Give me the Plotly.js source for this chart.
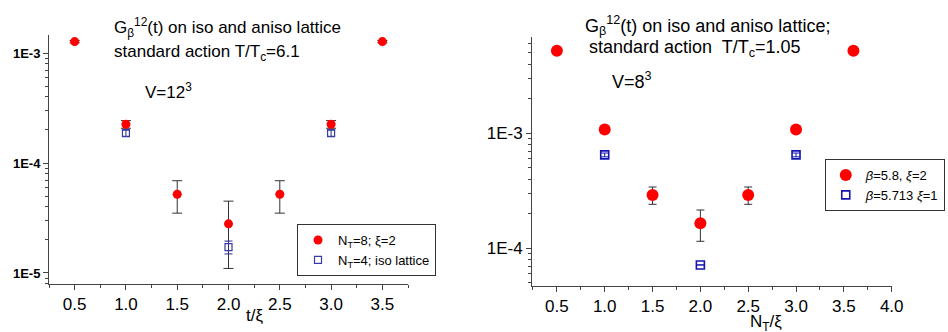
<!DOCTYPE html>
<html>
<head>
<meta charset="utf-8">
<script src="https://cdn.plot.ly/plotly-3.0.1.min.js"></script>
<style>html,body{margin:0;padding:0;background:#fff;}#chart{width:948px;height:332px;}</style>
</head>
<body>
<div id="chart"></div>
<script>
// ---- Left panel data (T/Tc = 6.1, V = 12^3) ----
const leftX_aniso = [0.5, 1.0, 1.5, 2.0, 2.5, 3.0, 3.5];
const leftY_aniso = [1.27e-3, 2.25e-4, 5.2e-5, 2.8e-5, 5.2e-5, 2.25e-4, 1.27e-3];
const leftErr_aniso = [3e-5, 1.8e-5, 1.7e-5, 1.7e-5, 1.7e-5, 1.8e-5, 3e-5];
const leftX_iso = [1.0, 2.0, 3.0];
const leftY_iso = [1.87e-4, 1.72e-5, 1.87e-4];
const leftErr_iso = [1.2e-5, 0.23e-5, 1.2e-5];

// ---- Right panel data (T/Tc = 1.05, V = 8^3) ----
const rightX_aniso = [0.5, 1.0, 1.5, 2.0, 2.5, 3.0, 3.6];
const rightY_aniso = [5.22e-3, 1.08e-3, 2.91e-4, 1.65e-4, 2.91e-4, 1.08e-3, 5.22e-3];
const rightErr_aniso = [2e-4, 4e-5, 5e-5, 5e-5, 5e-5, 4e-5, 2e-4];
const rightX_iso = [1.0, 2.0, 3.0];
const rightY_iso = [6.48e-4, 7.16e-5, 6.48e-4];
const rightErr_iso = [2.5e-5, 0, 2.5e-5];

// ---- Tick labels ----
const leftXTickVals = [0.5, 1.0, 1.5, 2.0, 2.5, 3.0, 3.5];
const leftXTickText = ['0.5', '1.0', '1.5', '2.0', '2.5', '3.0', '3.5'];
const rightXTickVals = [0.5, 1.0, 1.5, 2.0, 2.5, 3.0, 3.5, 4.0];
const rightXTickText = ['0.5', '1.0', '1.5', '2.0', '2.5', '3.0', '3.5', '4.0'];
const leftYTickVals = [1e-5, 1e-4, 1e-3];
const leftYTickText = ['1E-5', '1E-4', '1E-3'];
const rightYTickVals = [1e-4, 1e-3];
const rightYTickText = ['1E-4', '1E-3'];

// ---- Legend names ----
const leftNames = ['N<sub>T</sub>=8; ξ=2', 'N<sub>T</sub>=4; iso lattice'];
const rightNames = ['<i>β</i>=5.8, <i>ξ</i>=2', '<i>β</i>=5.713 <i>ξ</i>=1'];

function minorLog(exps) {
  const out = [];
  exps.forEach(e => { for (let k = 2; k <= 9; k++) out.push(k * Math.pow(10, e)); });
  return out;
}

const RED = '#ff0000';
const ERR = '#333333';
const FONT = 'Liberation Sans, Arial, sans-serif';

const traces = [
  {x: leftX_aniso, y: leftY_aniso, xaxis: 'x', yaxis: 'y', type: 'scatter', mode: 'markers',
   name: leftNames[0], legend: 'legend',
   marker: {symbol: 'circle', size: 9, color: RED},
   error_y: {type: 'data', array: leftErr_aniso, color: ERR, thickness: 1, width: 5}},
  {x: leftX_iso, y: leftY_iso, xaxis: 'x', yaxis: 'y', type: 'scatter', mode: 'markers',
   name: leftNames[1], legend: 'legend',
   marker: {symbol: 'square-open', size: 7, color: '#3a3aa8', line: {width: 1.2}},
   error_y: {type: 'data', array: leftErr_iso, color: '#2a2a80', thickness: 1, width: 4}},
  {x: rightX_aniso, y: rightY_aniso, xaxis: 'x2', yaxis: 'y2', type: 'scatter', mode: 'markers',
   name: rightNames[0], legend: 'legend2',
   marker: {symbol: 'circle', size: 12, color: RED},
   error_y: {type: 'data', array: rightErr_aniso, color: ERR, thickness: 1, width: 4}},
  {x: rightX_iso, y: rightY_iso, xaxis: 'x2', yaxis: 'y2', type: 'scatter', mode: 'markers',
   name: rightNames[1], legend: 'legend2',
   marker: {symbol: 'square-open', size: 8, color: '#1414b0', line: {width: 1.6}},
   error_y: {type: 'data', array: rightErr_iso, color: '#1414b0', thickness: 1, width: 4}}
];

const axCommon = {showgrid: false, zeroline: false, showline: true, linecolor: '#444', linewidth: 1,
  ticks: 'outside', tickcolor: '#444', tickwidth: 1, mirror: false};

const layout = {
  width: 948, height: 332, margin: {l: 0, r: 0, t: 0, b: 0},
  paper_bgcolor: '#fff', plot_bgcolor: '#fff',
  font: {family: FONT, color: '#000'},
  showlegend: true,
  xaxis: Object.assign({}, axCommon, {domain: [0.0517, 0.4304], range: [0.25, 3.75], anchor: 'y',
    tickmode: 'array', tickvals: leftXTickVals, ticktext: leftXTickText, ticklen: 5,
    tickfont: {size: 17, family: FONT},
    minor: {tickmode: 'linear', tick0: 0.25, dtick: 0.25, ticks: 'outside', ticklen: 3, tickcolor: '#444', showgrid: false}}),
  yaxis: Object.assign({}, axCommon, {domain: [0.1446, 0.8946], type: 'log', range: [-5.1, -2.836], anchor: 'x',
    tickmode: 'array', tickvals: leftYTickVals, ticktext: leftYTickText, ticklen: 5,
    tickfont: {size: 13, family: FONT, weight: 600},
    minor: {tickmode: 'array', tickvals: minorLog([-6, -5, -4, -3]), ticks: 'outside', ticklen: 3, tickcolor: '#444', showgrid: false}}),
  xaxis2: Object.assign({}, axCommon, {domain: [0.5612, 0.9409], range: [0.24, 4.003], anchor: 'y2',
    tickmode: 'array', tickvals: rightXTickVals, ticktext: rightXTickText, ticklen: 5,
    tickfont: {size: 17, family: FONT},
    minor: {tickmode: 'linear', tick0: 0.25, dtick: 0.25, ticks: 'outside', ticklen: 3, tickcolor: '#444', showgrid: false}}),
  yaxis2: Object.assign({}, axCommon, {domain: [0.1386, 0.8886], type: 'log', range: [-4.328, -2.163], anchor: 'x2',
    tickmode: 'array', tickvals: rightYTickVals, ticktext: rightYTickText, ticklen: 5,
    tickfont: {size: 17, family: FONT},
    minor: {tickmode: 'array', tickvals: minorLog([-5, -4, -3]), ticks: 'outside', ticklen: 3, tickcolor: '#444', showgrid: false}}),
  legend: {x: 0.3133, y: 0.3253, xanchor: 'left', yanchor: 'top', bgcolor: '#fff',
    bordercolor: '#333', borderwidth: 1, font: {size: 13, family: FONT}, tracegroupgap: 0},
  legend2: {x: 0.870, y: 0.521, xanchor: 'left', yanchor: 'top', bgcolor: '#fff',
    bordercolor: '#333', borderwidth: 1, font: {size: 13, family: FONT}, tracegroupgap: 0},
  annotations: [
    {xref: 'paper', yref: 'paper', x: 0.1181, y: 0.9157, xanchor: 'left', yanchor: 'middle', showarrow: false,
     text: 'G<sub>β</sub><sup>12</sup>(t) on iso and aniso lattice', font: {size: 17}},
    {xref: 'paper', yref: 'paper', x: 0.1181, y: 0.8404, xanchor: 'left', yanchor: 'middle', showarrow: false,
     text: 'standard action T/T<sub>c</sub>=6.1', font: {size: 17}},
    {xref: 'paper', yref: 'paper', x: 0.1508, y: 0.726, xanchor: 'left', yanchor: 'middle', showarrow: false,
     text: 'V=12<sup>3</sup>', font: {size: 17}},
    {xref: 'paper', yref: 'paper', x: 0.615, y: 0.9217, xanchor: 'left', yanchor: 'middle', showarrow: false,
     text: 'G<sub>β</sub><sup>12</sup>(t) on iso and aniso lattice;', font: {size: 18}},
    {xref: 'paper', yref: 'paper', x: 0.6192, y: 0.8554, xanchor: 'left', yanchor: 'middle', showarrow: false,
     text: 'standard action  T/T<sub>c</sub>=1.05', font: {size: 18}},
    {xref: 'paper', yref: 'paper', x: 0.6435, y: 0.759, xanchor: 'left', yanchor: 'middle', showarrow: false,
     text: 'V=8<sup>3</sup>', font: {size: 18}},
    {xref: 'paper', yref: 'paper', x: 0.268, y: 0.0482, xanchor: 'center', yanchor: 'middle', showarrow: false,
     text: 't/ξ', font: {size: 17}},
    {xref: 'paper', yref: 'paper', x: 0.808, y: 0.028, xanchor: 'center', yanchor: 'middle', showarrow: false,
     text: 'N<sub>T</sub>/ξ', font: {size: 17}}
  ]
};

Plotly.newPlot('chart', traces, layout, {staticPlot: true, displayModeBar: false});
</script>
</body>
</html>
